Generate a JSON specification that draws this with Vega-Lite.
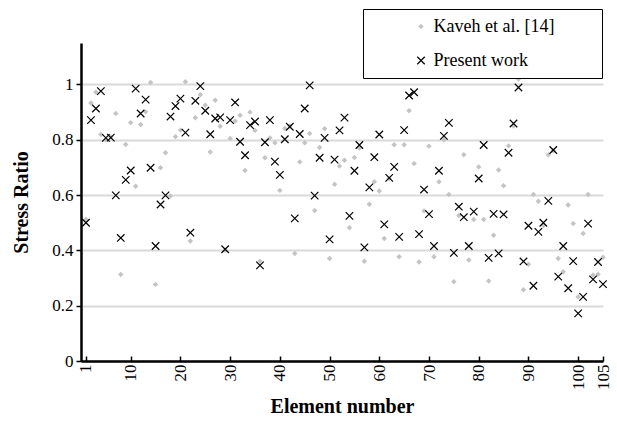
{
  "$schema": "https://vega.github.io/schema/vega-lite/v6.json",
  "width": 522,
  "height": 318,
  "autosize": {"type": "none"},
  "padding": {"left": 81, "top": 43, "right": 14, "bottom": 61},
  "background": "white",
  "config": {
    "view": {"stroke": null},
    "font": "Liberation Serif",
    "legend": {
      "orient": "none", "legendX": 282, "legendY": -34,
      "padding": 8.5, "strokeColor": "black", "fillColor": "white",
      "symbolOffset": 40.5, "labelOffset": 3.5, "rowPadding": 16,
      "labelFont": "Liberation Serif", "labelFontSize": 18, "labelColor": "black",
      "labelLimit": 0, "symbolStrokeWidth": 1.2,
      "titleOrient": "right", "titlePadding": 39, "titleFontSize": 18,
      "titleFont": "Liberation Serif", "titleColor": "white"
    }
  },
  "data": {"values": [
    {"element": 1, "series": "Kaveh et al. [14]", "ratio": 0.512},
    {"element": 2, "series": "Kaveh et al. [14]", "ratio": 0.933},
    {"element": 3, "series": "Kaveh et al. [14]", "ratio": 0.972},
    {"element": 4, "series": "Kaveh et al. [14]", "ratio": 0.819},
    {"element": 5, "series": "Kaveh et al. [14]", "ratio": 0.80},
    {"element": 6, "series": "Kaveh et al. [14]", "ratio": 0.81},
    {"element": 7, "series": "Kaveh et al. [14]", "ratio": 0.895},
    {"element": 8, "series": "Kaveh et al. [14]", "ratio": 0.313},
    {"element": 9, "series": "Kaveh et al. [14]", "ratio": 0.783},
    {"element": 10, "series": "Kaveh et al. [14]", "ratio": 0.862},
    {"element": 11, "series": "Kaveh et al. [14]", "ratio": 0.632},
    {"element": 12, "series": "Kaveh et al. [14]", "ratio": 0.855},
    {"element": 13, "series": "Kaveh et al. [14]", "ratio": 0.901},
    {"element": 14, "series": "Kaveh et al. [14]", "ratio": 1.007},
    {"element": 15, "series": "Kaveh et al. [14]", "ratio": 0.277},
    {"element": 16, "series": "Kaveh et al. [14]", "ratio": 0.699},
    {"element": 17, "series": "Kaveh et al. [14]", "ratio": 0.753},
    {"element": 18, "series": "Kaveh et al. [14]", "ratio": 0.597},
    {"element": 19, "series": "Kaveh et al. [14]", "ratio": 0.811},
    {"element": 20, "series": "Kaveh et al. [14]", "ratio": 0.835},
    {"element": 21, "series": "Kaveh et al. [14]", "ratio": 1.01},
    {"element": 22, "series": "Kaveh et al. [14]", "ratio": 0.434},
    {"element": 23, "series": "Kaveh et al. [14]", "ratio": 0.88},
    {"element": 24, "series": "Kaveh et al. [14]", "ratio": 0.963},
    {"element": 25, "series": "Kaveh et al. [14]", "ratio": 0.925},
    {"element": 26, "series": "Kaveh et al. [14]", "ratio": 0.756},
    {"element": 27, "series": "Kaveh et al. [14]", "ratio": 0.943},
    {"element": 28, "series": "Kaveh et al. [14]", "ratio": 0.849},
    {"element": 29, "series": "Kaveh et al. [14]", "ratio": 0.40},
    {"element": 30, "series": "Kaveh et al. [14]", "ratio": 0.805},
    {"element": 31, "series": "Kaveh et al. [14]", "ratio": 0.868},
    {"element": 32, "series": "Kaveh et al. [14]", "ratio": 0.889},
    {"element": 33, "series": "Kaveh et al. [14]", "ratio": 0.689},
    {"element": 34, "series": "Kaveh et al. [14]", "ratio": 0.9},
    {"element": 35, "series": "Kaveh et al. [14]", "ratio": 0.834},
    {"element": 36, "series": "Kaveh et al. [14]", "ratio": 0.361},
    {"element": 37, "series": "Kaveh et al. [14]", "ratio": 0.735},
    {"element": 38, "series": "Kaveh et al. [14]", "ratio": 0.807},
    {"element": 39, "series": "Kaveh et al. [14]", "ratio": 0.789},
    {"element": 40, "series": "Kaveh et al. [14]", "ratio": 0.617},
    {"element": 41, "series": "Kaveh et al. [14]", "ratio": 0.841},
    {"element": 42, "series": "Kaveh et al. [14]", "ratio": 0.85},
    {"element": 43, "series": "Kaveh et al. [14]", "ratio": 0.389},
    {"element": 44, "series": "Kaveh et al. [14]", "ratio": 0.72},
    {"element": 45, "series": "Kaveh et al. [14]", "ratio": 0.789},
    {"element": 46, "series": "Kaveh et al. [14]", "ratio": 0.823},
    {"element": 47, "series": "Kaveh et al. [14]", "ratio": 0.544},
    {"element": 48, "series": "Kaveh et al. [14]", "ratio": 0.772},
    {"element": 49, "series": "Kaveh et al. [14]", "ratio": 0.84},
    {"element": 50, "series": "Kaveh et al. [14]", "ratio": 0.371},
    {"element": 51, "series": "Kaveh et al. [14]", "ratio": 0.639},
    {"element": 52, "series": "Kaveh et al. [14]", "ratio": 0.705},
    {"element": 53, "series": "Kaveh et al. [14]", "ratio": 0.726},
    {"element": 54, "series": "Kaveh et al. [14]", "ratio": 0.482},
    {"element": 55, "series": "Kaveh et al. [14]", "ratio": 0.736},
    {"element": 56, "series": "Kaveh et al. [14]", "ratio": 0.77},
    {"element": 57, "series": "Kaveh et al. [14]", "ratio": 0.361},
    {"element": 58, "series": "Kaveh et al. [14]", "ratio": 0.567},
    {"element": 59, "series": "Kaveh et al. [14]", "ratio": 0.648},
    {"element": 60, "series": "Kaveh et al. [14]", "ratio": 0.615},
    {"element": 61, "series": "Kaveh et al. [14]", "ratio": 0.443},
    {"element": 62, "series": "Kaveh et al. [14]", "ratio": 0.66},
    {"element": 63, "series": "Kaveh et al. [14]", "ratio": 0.782},
    {"element": 64, "series": "Kaveh et al. [14]", "ratio": 0.377},
    {"element": 65, "series": "Kaveh et al. [14]", "ratio": 0.782},
    {"element": 66, "series": "Kaveh et al. [14]", "ratio": 0.905},
    {"element": 67, "series": "Kaveh et al. [14]", "ratio": 0.714},
    {"element": 68, "series": "Kaveh et al. [14]", "ratio": 0.358},
    {"element": 69, "series": "Kaveh et al. [14]", "ratio": 0.543},
    {"element": 70, "series": "Kaveh et al. [14]", "ratio": 0.777},
    {"element": 71, "series": "Kaveh et al. [14]", "ratio": 0.377},
    {"element": 72, "series": "Kaveh et al. [14]", "ratio": 0.648},
    {"element": 73, "series": "Kaveh et al. [14]", "ratio": 0.80},
    {"element": 74, "series": "Kaveh et al. [14]", "ratio": 0.602},
    {"element": 75, "series": "Kaveh et al. [14]", "ratio": 0.287},
    {"element": 76, "series": "Kaveh et al. [14]", "ratio": 0.526},
    {"element": 77, "series": "Kaveh et al. [14]", "ratio": 0.746},
    {"element": 78, "series": "Kaveh et al. [14]", "ratio": 0.365},
    {"element": 79, "series": "Kaveh et al. [14]", "ratio": 0.512},
    {"element": 80, "series": "Kaveh et al. [14]", "ratio": 0.702},
    {"element": 81, "series": "Kaveh et al. [14]", "ratio": 0.512},
    {"element": 82, "series": "Kaveh et al. [14]", "ratio": 0.289},
    {"element": 83, "series": "Kaveh et al. [14]", "ratio": 0.455},
    {"element": 84, "series": "Kaveh et al. [14]", "ratio": 0.691},
    {"element": 85, "series": "Kaveh et al. [14]", "ratio": 0.634},
    {"element": 86, "series": "Kaveh et al. [14]", "ratio": 0.778},
    {"element": 87, "series": "Kaveh et al. [14]", "ratio": 0.85},
    {"element": 88, "series": "Kaveh et al. [14]", "ratio": 1.02},
    {"element": 89, "series": "Kaveh et al. [14]", "ratio": 0.258},
    {"element": 90, "series": "Kaveh et al. [14]", "ratio": 0.35},
    {"element": 91, "series": "Kaveh et al. [14]", "ratio": 0.602},
    {"element": 92, "series": "Kaveh et al. [14]", "ratio": 0.578},
    {"element": 93, "series": "Kaveh et al. [14]", "ratio": 0.49},
    {"element": 94, "series": "Kaveh et al. [14]", "ratio": 0.746},
    {"element": 95, "series": "Kaveh et al. [14]", "ratio": 0.76},
    {"element": 96, "series": "Kaveh et al. [14]", "ratio": 0.371},
    {"element": 97, "series": "Kaveh et al. [14]", "ratio": 0.323},
    {"element": 98, "series": "Kaveh et al. [14]", "ratio": 0.564},
    {"element": 99, "series": "Kaveh et al. [14]", "ratio": 0.497},
    {"element": 100, "series": "Kaveh et al. [14]", "ratio": 0.232},
    {"element": 101, "series": "Kaveh et al. [14]", "ratio": 0.461},
    {"element": 102, "series": "Kaveh et al. [14]", "ratio": 0.602},
    {"element": 103, "series": "Kaveh et al. [14]", "ratio": 0.311},
    {"element": 104, "series": "Kaveh et al. [14]", "ratio": 0.314},
    {"element": 105, "series": "Kaveh et al. [14]", "ratio": 0.375},
    {"element": 1, "series": "Present work", "ratio": 0.50},
    {"element": 2, "series": "Present work", "ratio": 0.871},
    {"element": 3, "series": "Present work", "ratio": 0.913},
    {"element": 4, "series": "Present work", "ratio": 0.976},
    {"element": 5, "series": "Present work", "ratio": 0.807},
    {"element": 6, "series": "Present work", "ratio": 0.808},
    {"element": 7, "series": "Present work", "ratio": 0.599},
    {"element": 8, "series": "Present work", "ratio": 0.445},
    {"element": 9, "series": "Present work", "ratio": 0.655},
    {"element": 10, "series": "Present work", "ratio": 0.689},
    {"element": 11, "series": "Present work", "ratio": 0.985},
    {"element": 12, "series": "Present work", "ratio": 0.895},
    {"element": 13, "series": "Present work", "ratio": 0.945},
    {"element": 14, "series": "Present work", "ratio": 0.699},
    {"element": 15, "series": "Present work", "ratio": 0.416},
    {"element": 16, "series": "Present work", "ratio": 0.566},
    {"element": 17, "series": "Present work", "ratio": 0.599},
    {"element": 18, "series": "Present work", "ratio": 0.884},
    {"element": 19, "series": "Present work", "ratio": 0.922},
    {"element": 20, "series": "Present work", "ratio": 0.949},
    {"element": 21, "series": "Present work", "ratio": 0.826},
    {"element": 22, "series": "Present work", "ratio": 0.464},
    {"element": 23, "series": "Present work", "ratio": 0.941},
    {"element": 24, "series": "Present work", "ratio": 0.994},
    {"element": 25, "series": "Present work", "ratio": 0.905},
    {"element": 26, "series": "Present work", "ratio": 0.82},
    {"element": 27, "series": "Present work", "ratio": 0.877},
    {"element": 28, "series": "Present work", "ratio": 0.881},
    {"element": 29, "series": "Present work", "ratio": 0.404},
    {"element": 30, "series": "Present work", "ratio": 0.871},
    {"element": 31, "series": "Present work", "ratio": 0.935},
    {"element": 32, "series": "Present work", "ratio": 0.793},
    {"element": 33, "series": "Present work", "ratio": 0.744},
    {"element": 34, "series": "Present work", "ratio": 0.853},
    {"element": 35, "series": "Present work", "ratio": 0.866},
    {"element": 36, "series": "Present work", "ratio": 0.346},
    {"element": 37, "series": "Present work", "ratio": 0.791},
    {"element": 38, "series": "Present work", "ratio": 0.871},
    {"element": 39, "series": "Present work", "ratio": 0.721},
    {"element": 40, "series": "Present work", "ratio": 0.673},
    {"element": 41, "series": "Present work", "ratio": 0.802},
    {"element": 42, "series": "Present work", "ratio": 0.847},
    {"element": 43, "series": "Present work", "ratio": 0.516},
    {"element": 44, "series": "Present work", "ratio": 0.821},
    {"element": 45, "series": "Present work", "ratio": 0.913},
    {"element": 46, "series": "Present work", "ratio": 0.997},
    {"element": 47, "series": "Present work", "ratio": 0.598},
    {"element": 48, "series": "Present work", "ratio": 0.735},
    {"element": 49, "series": "Present work", "ratio": 0.807},
    {"element": 50, "series": "Present work", "ratio": 0.44},
    {"element": 51, "series": "Present work", "ratio": 0.728},
    {"element": 52, "series": "Present work", "ratio": 0.834},
    {"element": 53, "series": "Present work", "ratio": 0.88},
    {"element": 54, "series": "Present work", "ratio": 0.525},
    {"element": 55, "series": "Present work", "ratio": 0.688},
    {"element": 56, "series": "Present work", "ratio": 0.781},
    {"element": 57, "series": "Present work", "ratio": 0.411},
    {"element": 58, "series": "Present work", "ratio": 0.628},
    {"element": 59, "series": "Present work", "ratio": 0.737},
    {"element": 60, "series": "Present work", "ratio": 0.819},
    {"element": 61, "series": "Present work", "ratio": 0.494},
    {"element": 62, "series": "Present work", "ratio": 0.662},
    {"element": 63, "series": "Present work", "ratio": 0.702},
    {"element": 64, "series": "Present work", "ratio": 0.449},
    {"element": 65, "series": "Present work", "ratio": 0.835},
    {"element": 66, "series": "Present work", "ratio": 0.960},
    {"element": 67, "series": "Present work", "ratio": 0.972},
    {"element": 68, "series": "Present work", "ratio": 0.459},
    {"element": 69, "series": "Present work", "ratio": 0.62},
    {"element": 70, "series": "Present work", "ratio": 0.531},
    {"element": 71, "series": "Present work", "ratio": 0.416},
    {"element": 72, "series": "Present work", "ratio": 0.688},
    {"element": 73, "series": "Present work", "ratio": 0.814},
    {"element": 74, "series": "Present work", "ratio": 0.861},
    {"element": 75, "series": "Present work", "ratio": 0.391},
    {"element": 76, "series": "Present work", "ratio": 0.558},
    {"element": 77, "series": "Present work", "ratio": 0.52},
    {"element": 78, "series": "Present work", "ratio": 0.416},
    {"element": 79, "series": "Present work", "ratio": 0.54},
    {"element": 80, "series": "Present work", "ratio": 0.66},
    {"element": 81, "series": "Present work", "ratio": 0.781},
    {"element": 82, "series": "Present work", "ratio": 0.373},
    {"element": 83, "series": "Present work", "ratio": 0.532},
    {"element": 84, "series": "Present work", "ratio": 0.389},
    {"element": 85, "series": "Present work", "ratio": 0.53},
    {"element": 86, "series": "Present work", "ratio": 0.753},
    {"element": 87, "series": "Present work", "ratio": 0.859},
    {"element": 88, "series": "Present work", "ratio": 0.989},
    {"element": 89, "series": "Present work", "ratio": 0.36},
    {"element": 90, "series": "Present work", "ratio": 0.489},
    {"element": 91, "series": "Present work", "ratio": 0.272},
    {"element": 92, "series": "Present work", "ratio": 0.467},
    {"element": 93, "series": "Present work", "ratio": 0.5},
    {"element": 94, "series": "Present work", "ratio": 0.579},
    {"element": 95, "series": "Present work", "ratio": 0.763},
    {"element": 96, "series": "Present work", "ratio": 0.305},
    {"element": 97, "series": "Present work", "ratio": 0.416},
    {"element": 98, "series": "Present work", "ratio": 0.263},
    {"element": 99, "series": "Present work", "ratio": 0.361},
    {"element": 100, "series": "Present work", "ratio": 0.172},
    {"element": 101, "series": "Present work", "ratio": 0.232},
    {"element": 102, "series": "Present work", "ratio": 0.497},
    {"element": 103, "series": "Present work", "ratio": 0.295},
    {"element": 104, "series": "Present work", "ratio": 0.358},
    {"element": 105, "series": "Present work", "ratio": 0.278}
  ]},
  "mark": {"type": "point", "opacity": 1, "strokeWidth": 1.2},
  "encoding": {
    "x": {
      "field": "element",
      "type": "quantitative",
      "title": "Element number",
      "scale": {"domain": [0, 105], "nice": false, "zero": false},
      "axis": {
        "values": [1, 10, 20, 30, 40, 50, 60, 70, 80, 90, 100, 105],
        "grid": false,
        "labelAngle": -90,
        "labelFont": "Liberation Serif",
        "labelFontSize": 17,
        "labelColor": "black",
        "labelPadding": 8,
        "labelOverlap": false,
        "labelFlush": false,
        "tickSize": -5,
        "tickColor": "black",
        "tickWidth": 1.5,
        "domainColor": "black",
        "domainWidth": 2.5,
        "titleFont": "Liberation Serif",
        "titleFontWeight": "bold",
        "titleFontSize": 20,
        "titleColor": "black",
        "titlePadding": 7
      }
    },
    "y": {
      "field": "ratio",
      "type": "quantitative",
      "title": "Stress Ratio",
      "scale": {"domain": [0, 1.15], "nice": false},
      "axis": {
        "values": [0, 0.2, 0.4, 0.6, 0.8, 1],
        "format": "~g",
        "grid": true,
        "gridColor": "#d9d9d9",
        "gridWidth": 2,
        "labelFont": "Liberation Serif",
        "labelFontSize": 17,
        "labelColor": "black",
        "labelPadding": 3,
        "tickSize": 5,
        "tickColor": "black",
        "tickWidth": 1.5,
        "domainColor": "black",
        "domainWidth": 2.5,
        "titleFont": "Liberation Serif",
        "titleFontWeight": "bold",
        "titleFontSize": 20,
        "titleColor": "black",
        "titlePadding": 20
      }
    },
    "shape": {
      "field": "series",
      "type": "nominal",
      "title": "\u00a0",
      "scale": {"domain": ["Kaveh et al. [14]", "Present work"], "range": ["diamond", "M-1,-1L1,1M-1,1L1,-1"]}
    },
    "fill": {
      "field": "series",
      "type": "nominal",
      "title": "\u00a0",
      "scale": {"domain": ["Kaveh et al. [14]", "Present work"], "range": ["#c4c4c4", "transparent"]}
    },
    "stroke": {
      "field": "series",
      "type": "nominal",
      "title": "\u00a0",
      "scale": {"domain": ["Kaveh et al. [14]", "Present work"], "range": ["#c4c4c4", "#000000"]}
    },
    "size": {
      "field": "series",
      "type": "nominal",
      "title": "\u00a0",
      "scale": {"domain": ["Kaveh et al. [14]", "Present work"], "range": [14, 56]}
    }
  }
}
